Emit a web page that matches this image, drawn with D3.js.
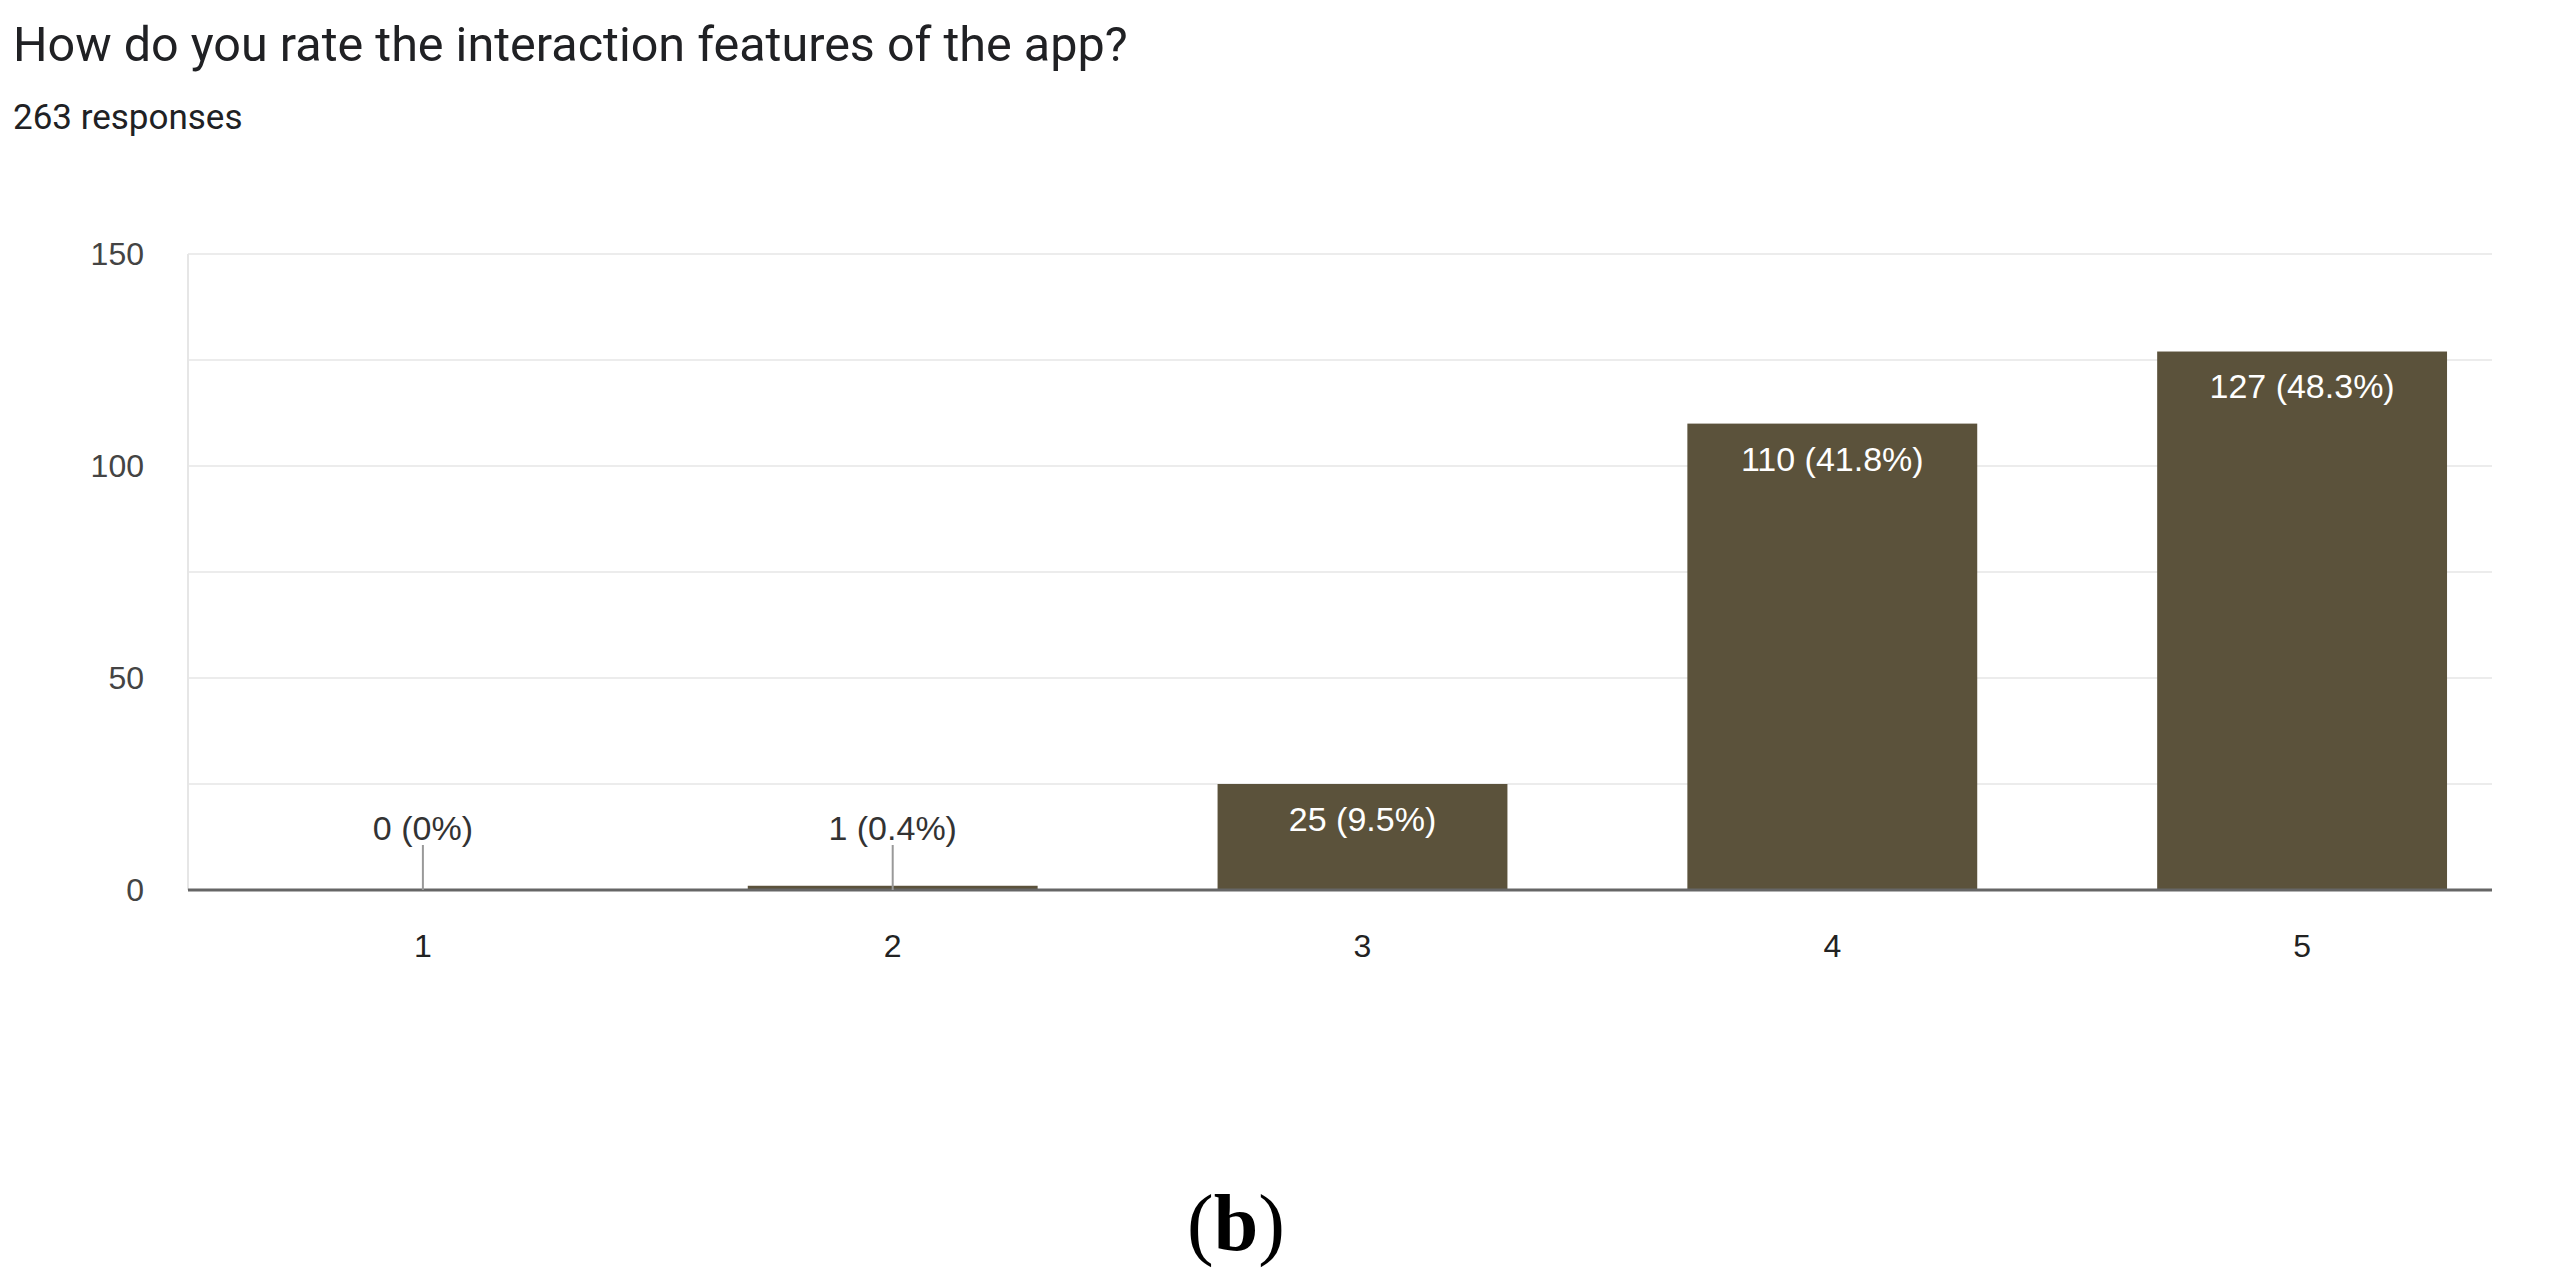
<!DOCTYPE html>
<html>
<head>
<meta charset="utf-8">
<script src="https://cdn.jsdelivr.net/npm/d3@7"></script>
<style>
  body { margin: 0; background: #fff; }
  svg { display: block; }
</style>
</head>
<body>
<svg id="chart"></svg>
<script>
const title = "How do you rate the interaction features of the app?";
const subtitle = "263 responses";
const categories = ["1", "2", "3", "4", "5"];
const counts = [0, 1, 25, 110, 127];
const percents = ["0%", "0.4%", "9.5%", "41.8%", "48.3%"];
const yTicks = [0, 50, 100, 150];
const gridTicks = [0, 25, 50, 75, 100, 125, 150];

const width = 2567;
const height = 1283;
const margin = { top: 254, right: 30, bottom: 393, left: 188 };

const svg = d3.select("#chart")
    .attr("width", width)
    .attr("height", height);

svg.append("rect").attr("width", width).attr("height", height).attr("fill", "#fff");

// title block
svg.append("text")
    .attr("x", 13).attr("y", 61)
    .attr("font-family", "Roboto, 'Liberation Sans', sans-serif")
    .attr("font-size", 48.5)
    .attr("fill", "#202124")
    .text(title);

svg.append("text")
    .attr("x", 13).attr("y", 129)
    .attr("font-family", "Roboto, 'Liberation Sans', sans-serif")
    .attr("font-size", 35)
    .attr("fill", "#202124")
    .text(subtitle);

const x = d3.scaleBand()
    .domain(categories)
    .range([margin.left, width - margin.right])
    .paddingInner(0.383)
    .paddingOuter(0.1915);

const y = d3.scaleLinear()
    .domain([0, 150])
    .range([height - margin.bottom, margin.top]);

const gridRight = 2492;

// gridlines
svg.append("g")
    .selectAll("line")
    .data(gridTicks)
    .join("line")
    .attr("x1", margin.left).attr("x2", gridRight)
    .attr("y1", d => y(d)).attr("y2", d => y(d))
    .attr("stroke", "#ececec")
    .attr("stroke-width", 2);

// left border of plot
svg.append("line")
    .attr("x1", margin.left).attr("x2", margin.left)
    .attr("y1", y(150)).attr("y2", y(0))
    .attr("stroke", "#e6e6e6")
    .attr("stroke-width", 2);

// y axis
const yAxis = svg.append("g")
    .attr("transform", `translate(${margin.left},0)`)
    .call(d3.axisLeft(y).tickValues(yTicks).tickSize(0).tickPadding(44));
yAxis.select(".domain").remove();
yAxis.selectAll("text")
    .attr("font-family", "'Liberation Sans', Arial, sans-serif")
    .attr("font-size", 32)
    .attr("fill", "#444");

// x axis
const xAxis = svg.append("g")
    .attr("transform", `translate(0,${y(0)})`)
    .call(d3.axisBottom(x).tickSize(0).tickPadding(44));
xAxis.select(".domain").remove();
xAxis.selectAll("text")
    .attr("font-family", "'Liberation Sans', Arial, sans-serif")
    .attr("font-size", 32)
    .attr("fill", "#222");

// bars
svg.append("g")
    .selectAll("rect")
    .data(counts)
    .join("rect")
    .attr("x", (d, i) => x(categories[i]))
    .attr("y", d => y(d))
    .attr("width", x.bandwidth())
    .attr("height", d => y(0) - y(d))
    .attr("fill", "#5b523b");

// baseline
svg.append("line")
    .attr("x1", margin.left).attr("x2", gridRight)
    .attr("y1", y(0)).attr("y2", y(0))
    .attr("stroke", "#666")
    .attr("stroke-width", 3);

// value labels
const labels = svg.append("g")
    .attr("font-family", "'Liberation Sans', Arial, sans-serif")
    .attr("font-size", 34)
    .attr("text-anchor", "middle");

counts.forEach((d, i) => {
    const cx = x(categories[i]) + x.bandwidth() / 2;
    const txt = `${d} (${percents[i]})`;
    if (y(0) - y(d) > 60) {
        labels.append("text")
            .attr("x", cx).attr("y", y(d) + 35)
            .attr("dy", "0.35em")
            .attr("fill", "#fff")
            .text(txt);
    } else {
        labels.append("line")
            .attr("x1", cx).attr("x2", cx)
            .attr("y1", y(0) - 45).attr("y2", y(0))
            .attr("stroke", "#999")
            .attr("stroke-width", 2);
        labels.append("text")
            .attr("x", cx).attr("y", y(0) - 62)
            .attr("dy", "0.35em")
            .attr("fill", "#333")
            .text(txt);
    }
});

// panel tag
const tag = svg.append("text")
    .attr("x", 1236).attr("y", 1250)
    .attr("text-anchor", "middle")
    .attr("font-family", "'Liberation Serif', 'DejaVu Serif', serif")
    .attr("font-size", 80)
    .attr("fill", "#000");
tag.append("tspan").text("(");
tag.append("tspan").attr("font-weight", "bold").text("b");
tag.append("tspan").text(")");
</script>
</body>
</html>
